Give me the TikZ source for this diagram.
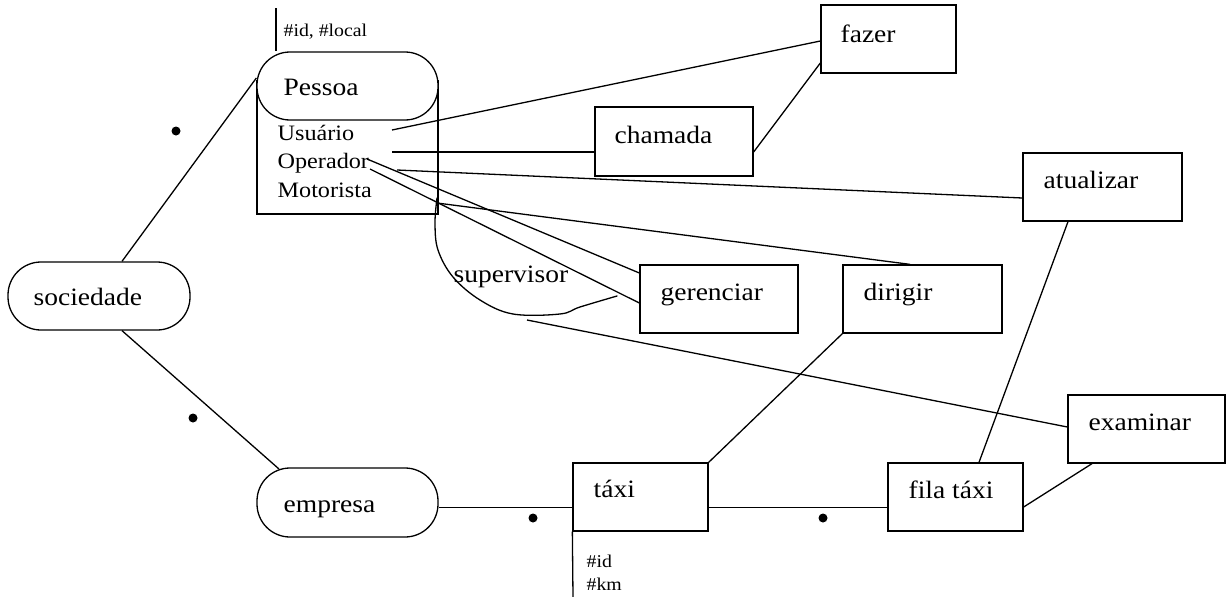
\documentclass[tikz,border=0pt]{standalone}
\usepackage{fontspec}
\setmainfont[FakeStretch=1.1]{Liberation Serif}
\begin{document}
\begin{tikzpicture}[x=1pt,y=-1pt,line width=1.3pt,
  ent/.style={draw,rectangle,inner sep=0pt,minimum height=68pt},
  pill/.style={ent,rounded corners=33pt,fill=white},
  big/.style={anchor=base west,inner sep=0pt,font=\fontsize{25}{28}\selectfont},
  mid/.style={anchor=base west,inner sep=0pt,font=\fontsize{22}{25}\selectfont},
  small/.style={anchor=base west,inner sep=0pt,font=\fontsize{18}{20}\selectfont},
  dot/.style={fill,circle,inner sep=0pt,minimum size=9pt}]
\useasboundingbox (0,0) rectangle (1227,597);

% entity boxes
\node[ent,minimum width=135pt] (fazer) at (888.5,39) {};
\node[ent,minimum width=158pt,minimum height=69pt] (chamada) at (674,141.5) {};
\node[ent,minimum width=159pt] (atu) at (1102.5,187) {};
\node[ent,minimum width=158pt] (ger) at (719,299) {};
\node[ent,minimum width=159pt] (dir) at (922.5,299) {};
\node[ent,minimum width=157pt] (exa) at (1146.5,429) {};
\node[ent,minimum width=135pt] (taxi) at (640.5,497) {};
\node[ent,minimum width=135pt] (fila) at (955.5,497) {};
\node[pill,minimum width=182pt] (soc) at (99,296) {};
\node[pill,minimum width=181pt,minimum height=69pt] (emp) at (347.5,502.5) {};

% Pessoa: open box with pill on top
\draw (257,80) -- (257,214) -- (438,214) -- (438,80);
\node[pill,minimum width=181pt] (pessoa) at (347.5,86) {};

% labels
\node[big] (tfazer) at (840,42) {fazer};
\node[big] (tcham) at (614,143) {chamada};
\node[big] (tatu) at (1043,188) {atualizar};
\node[big] (tger) at (660,300) {gerenciar};
\node[big] (tdir) at (863,300) {dirigir};
\node[big] (texa) at (1088,430) {examinar};
\node[big] (ttaxi) at (593,497) {táxi};
\node[big] (tfila) at (908,498) {fila táxi};
\node[big] (tsoc) at (33,305) {sociedade};
\node[big] (temp) at (283,512) {empresa};
\node[big] (tpes) at (283,95) {Pessoa};
\node[big] (tsup) at (453,282) {supervisor};
\node[mid] (tusu) at (277,140) {Usuário};
\node[mid] (tope) at (277,168) {Operador};
\node[mid] (tmot) at (277,197) {Motorista};
\node[small] (tidl) at (283,36) {\#id, \#local};
\node[small] (tid) at (586,567) {\#id};
\node[small] (tkm) at (586,590) {\#km};

% attribute stems
\coordinate (stemtop) at (276,8);
\draw (stemtop) -- (stemtop |- pessoa.north);
\coordinate (taxibot) at (573,597);
\draw (taxi.south west) -- (taxibot);

% role start points inside the Pessoa box
\coordinate (pUsu) at (392,130);
\coordinate (pCha) at (392,152);
\coordinate (pOpA) at (397,170);
\coordinate (pOpG1) at (367,159);
\coordinate (pOpG2) at (370,169);
\coordinate (pMot) at (437,203);
\coordinate (pSup) at (527,320);

% connectors
\draw (soc.north -| 122,0) -- (pessoa.west |- 0,78);
\draw (soc.south -| 122,0) -- (279,469);
\draw (emp.east |- 0,507.5) -- (taxi.west |- 0,507.5);
\draw (taxi.east |- 0,507.5) -- (fila.west |- 0,507.5);
\draw (taxi.north east) -- (dir.south west);
\draw (fila.north -| 979,0) -- (atu.south -| 1068,0);
\draw (fila.east |- 0,507) -- (exa.south -| 1092,0);
\draw (pSup) -- (exa.west |- 0,427);
\draw (pMot) -- (dir.north -| 910,0);
\draw (pOpG1) -- (ger.west |- 0,273);
\draw (pOpG2) -- (ger.west |- 0,303);
\draw (pOpA) -- (atu.west |- 0,198);
\draw (pCha) -- (chamada.west |- 0,152);
\draw (pUsu) -- (fazer.west |- 0,41);
\draw (chamada.east |- 0,152) -- (fazer.west |- 0,63);

% hand-drawn supervisor loop
\draw[line cap=round,line join=round] plot[smooth,tension=0.6] coordinates
  {(437,198) (435,223) (438,250) (453,277) (480,300) (513,314) (560,314) (580,307) (617,296)};

% dots
\node[dot] (d1) at (176,131) {};
\node[dot] (d2) at (193,418) {};
\node[dot] (d3) at (533,518) {};
\node[dot] (d4) at (823,518) {};
\end{tikzpicture}
\end{document}
